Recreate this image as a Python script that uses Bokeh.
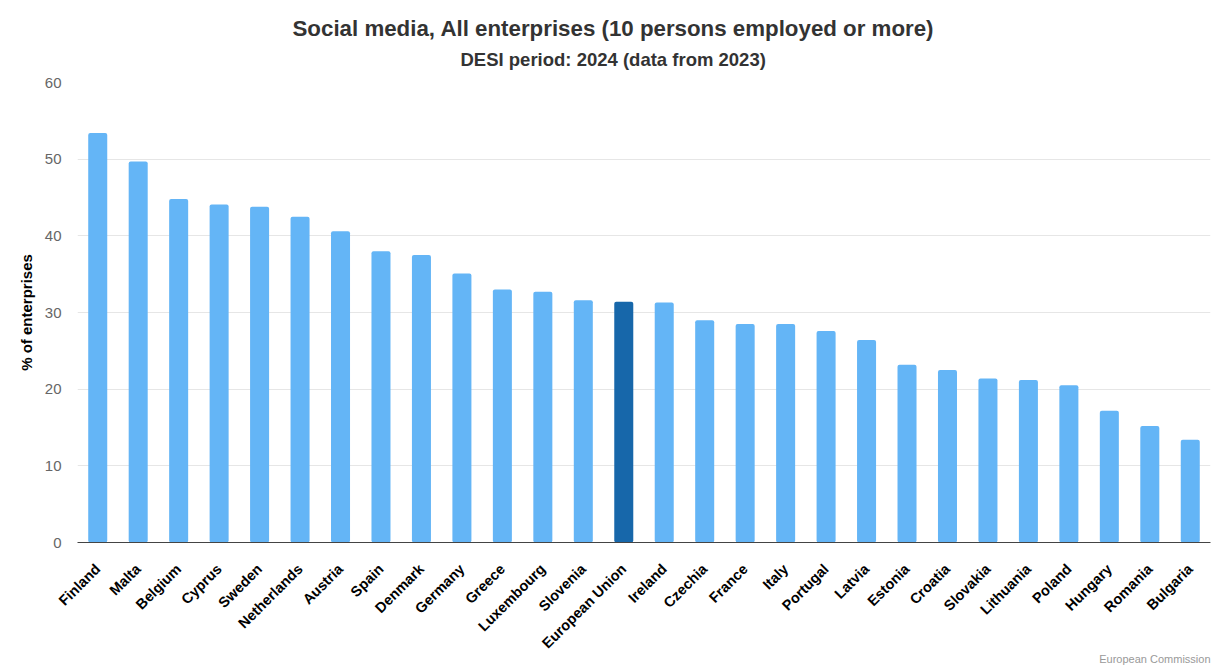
from math import pi
from bokeh.plotting import figure
from bokeh.models import ColumnDataSource, Range1d, Title, FactorRange
from bokeh.embed import file_html
from bokeh.resources import INLINE

countries = ["Finland", "Malta", "Belgium", "Cyprus", "Sweden", "Netherlands", "Austria",
             "Spain", "Denmark", "Germany", "Greece", "Luxembourg", "Slovenia",
             "European Union", "Ireland", "Czechia", "France", "Italy", "Portugal", "Latvia",
             "Estonia", "Croatia", "Slovakia", "Lithuania", "Poland", "Hungary", "Romania",
             "Bulgaria"]
values = [53.4, 49.7, 44.8, 44.1, 43.8, 42.5, 40.6, 38.0, 37.5, 35.1, 33.0, 32.7, 31.6,
          31.4, 31.3, 29.0, 28.5, 28.5, 27.6, 26.4, 23.2, 22.5, 21.4, 21.2, 20.5, 17.2,
          15.2, 13.4]
highlight = "European Union"
y_ticks = [0, 10, 20, 30, 40, 50, 60]

LIGHT = "#64b5f6"
DARK = "#1767aa"
colors = [DARK if c == highlight else LIGHT for c in countries]

source = ColumnDataSource(data=dict(country=countries, value=values, color=colors))

FONT = "Liberation Sans"

p = figure(
    x_range=FactorRange(*countries, range_padding=0),
    y_range=Range1d(0, 60),
    width=1211, height=666,
    output_backend="svg", toolbar_location=None,
    min_border_left=77, min_border_right=1, min_border_top=82, min_border_bottom=124,
    title=None,
)
p.background_fill_color = "white"
p.border_fill_color = "white"
p.outline_line_color = None

p.vbar(x="country", top="value", width=0.47, source=source, fill_color="color",
       line_color=None, border_radius=2)

# titles
p.add_layout(Title(text="DESI period: 2024 (data from 2023)", align="left",
                   text_font=FONT, text_font_size="18.5px", text_font_style="bold",
                   text_color="#333333", standoff=26, offset=383), "above")
p.add_layout(Title(text="Social media, All enterprises (10 persons employed or more)",
                   align="left", text_font=FONT, text_font_size="22.3px",
                   text_font_style="bold", text_color="#333333", standoff=-14,
                   offset=215), "above")
p.add_layout(Title(text="European Commission", align="right", text_font=FONT,
                   text_font_size="11px", text_font_style="normal",
                   text_color="#999999", standoff=-14, vertical_align="top"), "below")

# y axis
p.yaxis.ticker = y_ticks
p.yaxis.axis_line_color = None
p.yaxis.major_tick_line_color = None
p.yaxis.minor_tick_line_color = None
p.yaxis.major_tick_out = 0
p.yaxis.major_tick_in = 0
p.yaxis.major_label_standoff = 16
p.yaxis.major_label_text_font = FONT
p.yaxis.major_label_text_font_size = "15px"
p.yaxis.major_label_text_color = "#666666"
p.yaxis.axis_label = "% of enterprises"
p.yaxis.axis_label_text_font = FONT
p.yaxis.axis_label_text_font_size = "15px"
p.yaxis.axis_label_text_font_style = "bold"
p.yaxis.axis_label_text_color = "#000000"
p.yaxis.axis_label_standoff = 7

# x axis
p.xaxis.axis_line_color = "#444444"
p.xaxis.axis_line_width = 1
p.xaxis.major_tick_line_color = None
p.xaxis.major_tick_out = 0
p.xaxis.major_tick_in = 0
p.xaxis.major_label_orientation = pi / 4
p.xaxis.major_label_standoff = 24
p.xaxis.major_label_text_font = FONT
p.xaxis.major_label_text_font_size = "14.5px"
p.xaxis.major_label_text_font_style = "bold"
p.xaxis.major_label_text_color = "#000000"

p.xgrid.grid_line_color = None
p.ygrid.grid_line_color = "#e6e6e6"
p.ygrid.grid_line_width = 1

open("out.html", "w").write(file_html(p, INLINE))
